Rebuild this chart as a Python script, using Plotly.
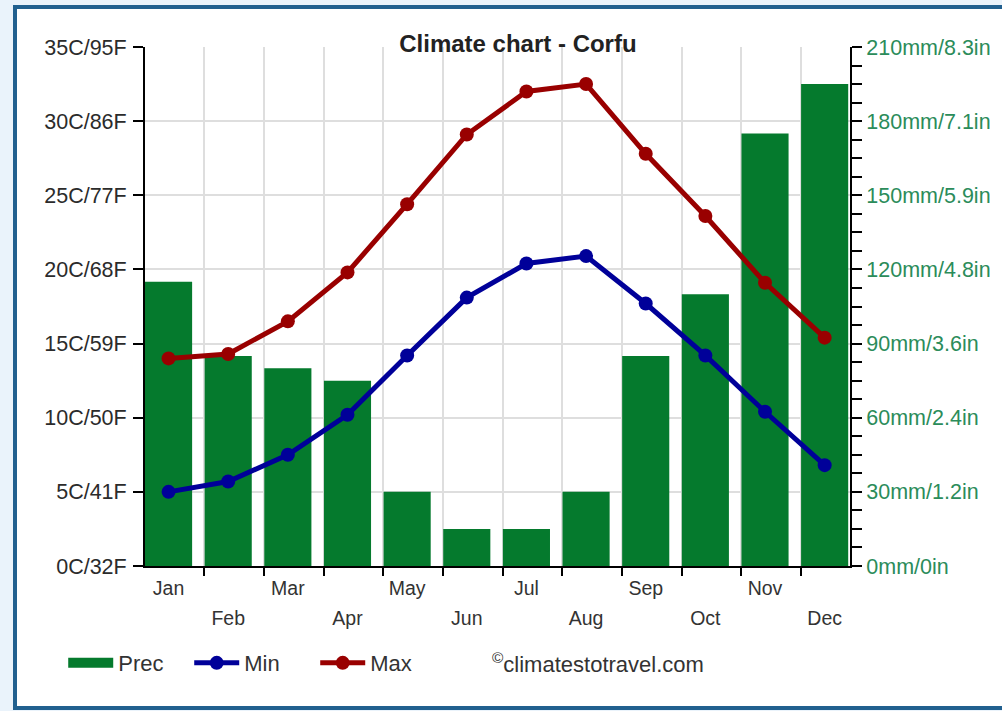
import plotly.graph_objects as go

months = ["Jan", "Feb", "Mar", "Apr", "May", "Jun", "Jul", "Aug", "Sep", "Oct", "Nov", "Dec"]
prec_mm = [115, 85, 80, 75, 30, 15, 15, 30, 85, 110, 175, 195]
temp_min = [5.0, 5.7, 7.5, 10.2, 14.2, 18.1, 20.4, 20.9, 17.7, 14.2, 10.4, 6.8]
temp_max = [14.0, 14.3, 16.5, 19.8, 24.4, 29.1, 32.0, 32.5, 27.8, 23.6, 19.1, 15.4]

temp_ticks = [0, 5, 10, 15, 20, 25, 30, 35]
temp_labels = ["0C/32F", "5C/41F", "10C/50F", "15C/59F", "20C/68F", "25C/77F", "30C/86F", "35C/95F"]
prec_ticks = [0, 30, 60, 90, 120, 150, 180, 210]
prec_labels = ["0mm/0in", "30mm/1.2in", "60mm/2.4in", "90mm/3.6in", "120mm/4.8in",
               "150mm/5.9in", "180mm/7.1in", "210mm/8.3in"]

FONT = "Liberation Sans, Arial, sans-serif"
GREEN = "#057a2d"
idx = list(range(len(months)))

fig = go.Figure()
fig.add_trace(go.Bar(x=idx, y=prec_mm, name="Prec", marker=dict(color=GREEN, line=dict(width=0)),
                     width=0.79, xaxis="x", yaxis="y", legendgroup="prec", showlegend=False))
# legend entry for the precipitation bars (wide block symbol)
fig.add_trace(go.Scatter(x=[None], y=[None], name="Prec", mode="lines", legendgroup="prec",
                         line=dict(color=GREEN, width=18), xaxis="x", yaxis="y", hoverinfo="skip"))
fig.add_trace(go.Scatter(x=idx, y=temp_min, name="Min", mode="lines+markers",
                         line=dict(color="#000099", width=5), marker=dict(size=14, color="#000099"),
                         xaxis="x", yaxis="y2"))
fig.add_trace(go.Scatter(x=idx, y=temp_max, name="Max", mode="lines+markers",
                         line=dict(color="#990000", width=5), marker=dict(size=14, color="#990000"),
                         xaxis="x", yaxis="y2"))
# anchor trace so the second (staggered labels) x axis is drawn
fig.add_trace(go.Scatter(x=[None], y=[None], xaxis="x2", yaxis="y", showlegend=False, hoverinfo="skip"))

xr = [-0.395, 11.425]
grid_pos = [i + 0.6 for i in range(11)]

fig.update_layout(
    width=1002, height=711,
    margin=dict(l=145, r=152, t=47, b=145, pad=0),
    paper_bgcolor="#eaf3fb",
    plot_bgcolor="white",
    font=dict(family=FONT, color="#333333"),
    title=dict(text="<b>Climate chart - Corfu</b>", x=0.529, xref="paper", xanchor="center",
               y=1 - 44 / 711, yanchor="middle", font=dict(size=24, color="#222222", family=FONT)),
    showlegend=True,
    legend=dict(orientation="h", x=-0.116, xanchor="left", y=-0.187, yanchor="middle",
                font=dict(size=22, color="#333333", family=FONT), bgcolor="rgba(0,0,0,0)",
                itemwidth=45, entrywidth=66, entrywidthmode="pixels"),
    xaxis=dict(range=xr, tickmode="array", tickvals=idx[0::2], ticktext=months[0::2],
               ticks="", showgrid=False, zeroline=False, showline=True, linecolor="black", linewidth=2,
               tickfont=dict(size=19.5, color="#333333"), ticklabelstandoff=4,
               minor=dict(tickmode="array", tickvals=grid_pos, ticks="outside", ticklen=8,
                          tickcolor="black", tickwidth=2, showgrid=True, gridcolor="#dedede", gridwidth=2)),
    xaxis2=dict(range=xr, overlaying="x", anchor="y", side="bottom", tickmode="array",
                tickvals=idx[1::2], ticktext=months[1::2], ticks="", showgrid=False, zeroline=False,
                showline=False, tickfont=dict(size=19.5, color="#333333"), ticklabelstandoff=38),
    yaxis=dict(range=[0, 210], side="right", tickmode="array", tickvals=prec_ticks, ticktext=prec_labels,
               ticks="outside", ticklen=10, tickwidth=2, tickcolor="black", showgrid=False, zeroline=False,
               showline=True, linecolor="black", linewidth=2, ticklabelstandoff=0,
               tickfont=dict(size=21.5, color="#2b8c5a"),
               minor=dict(tickmode="linear", tick0=0, dtick=7.5, ticks="outside", ticklen=10,
                          tickwidth=2, tickcolor="black", showgrid=False)),
    yaxis2=dict(range=[0, 35], side="left", overlaying="y", tickmode="array", tickvals=temp_ticks,
                ticktext=temp_labels, ticks="outside", ticklen=10, tickwidth=2, tickcolor="black",
                showgrid=True, gridcolor="#dedede", gridwidth=2, zeroline=False,
                showline=True, linecolor="black", linewidth=2, ticklabelstandoff=2,
                tickfont=dict(size=21.5, color="#2b2b2b")),
    shapes=[dict(type="rect", xref="paper", yref="paper",
                 x0=(15 - 145) / 705, x1=1.3, y0=(566 - 708) / 519, y1=1 + (47 - 7) / 519,
                 line=dict(color="#21608f", width=4), fillcolor="white", layer="below")],
    annotations=[dict(text="<sup>©</sup>climatestotravel.com", xref="paper", yref="paper",
                      x=(490 - 145) / 705, y=-0.187, xanchor="left", yanchor="middle", showarrow=False,
                      font=dict(size=22, color="#333333", family=FONT))],
)

fig.write_html("out.html", config={"displayModeBar": False},
               post_script="document.body.style.margin='0';document.body.style.overflow='hidden';")
